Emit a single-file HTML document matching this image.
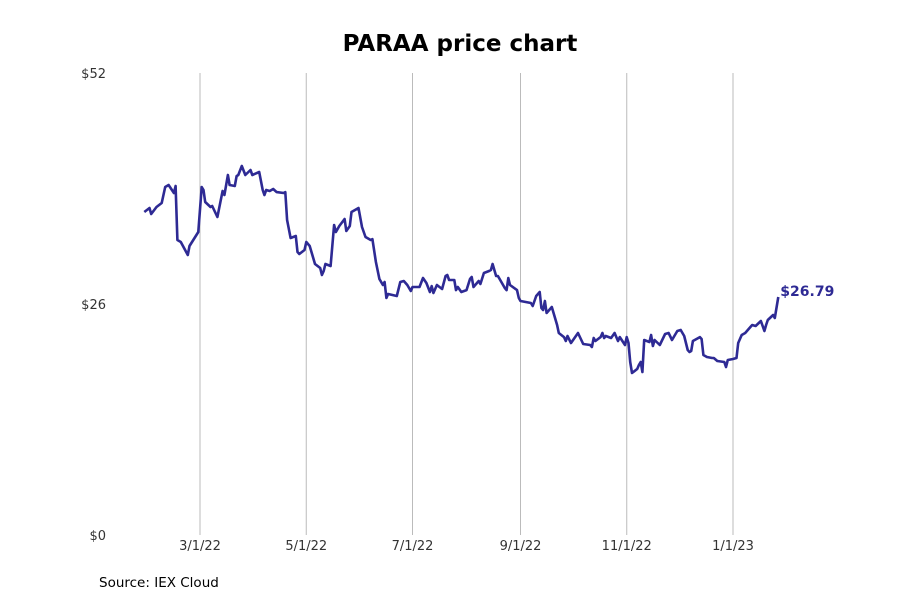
<!DOCTYPE html>
<html><head><meta charset="utf-8"><style>
body{margin:0;background:#fff;font-family:"DejaVu Sans","Liberation Sans",sans-serif}
</style></head><body>
<svg id="chart" width="900" height="600" xmlns="http://www.w3.org/2000/svg">
<text x="460" y="51" text-anchor="middle" font-size="23" font-weight="bold" fill="#000">PARAA price chart</text>
<g id="grid"></g><g id="yaxis"></g><g id="xaxis"></g><g id="series"></g>
<text x="99" y="587" font-size="13.5" fill="#000">Source: IEX Cloud</text>
</svg>
<script>
// days since 2022-03-01
const days=[-32,-29,-28,-25,-22,-20,-18,-15,-14,-13,-11,-7,-6,-1,1,2,3,6,7,10,13,14,16,17,20,21,22,24,26,29,30,34,36,37,38,40,42,44,48,49,50,52,55,56,57,60,61,63,66,69,70,71,72,75,77,78,80,83,84,86,87,91,93,95,98,99,101,103,105,106,107,108,113,115,117,119,121,122,126,128,130,132,133,134,136,139,141,142,143,146,147,148,150,153,155,156,157,160,161,163,166,167,168,170,171,175,176,177,178,182,183,184,190,191,193,195,196,197,198,199,202,205,206,209,210,211,213,217,220,224,225,226,227,230,231,232,233,236,238,240,241,244,245,246,247,248,251,252,253,254,255,258,259,260,261,264,267,269,271,274,276,278,280,281,282,283,287,288,289,291,294,295,297,301,302,303,306,308,309,311,313,316,317,319,322,324,325,326,329,330,332];
const prices=[36.35,36.80,36.13,36.92,37.37,39.17,39.39,38.49,39.28,33.20,32.98,31.51,32.53,34.10,39.17,38.83,37.48,36.92,37.03,35.79,38.72,38.27,40.52,39.39,39.28,40.40,40.52,41.53,40.52,41.08,40.52,40.86,38.83,38.27,38.83,38.72,38.94,38.60,38.49,38.60,35.45,33.43,33.65,31.85,31.63,32.08,32.98,32.53,30.50,30.05,29.26,29.71,30.50,30.28,34.89,34.10,34.78,35.57,34.22,34.78,36.35,36.80,34.67,33.54,33.20,33.31,30.73,28.81,28.14,28.48,26.67,27.12,26.90,28.48,28.59,28.14,27.46,27.91,27.91,28.93,28.36,27.35,28.02,27.24,28.14,27.69,29.15,29.26,28.70,28.70,27.57,27.91,27.35,27.57,28.81,29.04,27.91,28.59,28.25,29.49,29.71,29.83,30.50,29.15,29.15,27.80,27.57,28.93,28.14,27.57,26.67,26.34,26.11,25.77,26.90,27.35,25.55,25.32,26.34,24.99,25.66,23.64,22.74,22.28,21.83,22.40,21.61,22.74,21.50,21.38,21.16,22.17,21.83,22.28,22.74,22.17,22.40,22.17,22.74,21.83,22.28,21.38,22.28,21.61,19.47,18.23,18.68,19.13,19.47,18.35,21.95,21.72,22.51,21.27,21.95,21.38,22.62,22.74,21.95,22.96,23.07,22.40,20.82,20.60,20.71,21.83,22.28,22.06,20.26,20.03,19.92,19.92,19.58,19.47,18.91,19.70,19.81,19.92,21.61,22.51,22.74,23.41,23.64,23.52,24.09,22.96,23.64,24.20,24.76,24.42,26.79];
const tickDays=[0,61,122,184,245,306];
const tickLabels=["3/1/22","5/1/22","7/1/22","9/1/22","11/1/22","1/1/23"];
const yTicks=[0,26,52];
const yLabels=["$0","$26","$52"];
const lastLabel="$26.79";

const NS="http://www.w3.org/2000/svg";
const X=d=>200+d*(533/306);
const Y=p=>535-p*(462/52);
function mk(t,a,parent){const e=document.createElementNS(NS,t);for(const k in a)e.setAttribute(k,a[k]);document.getElementById(parent).appendChild(e);return e;}
tickDays.forEach((d,i)=>{
 const g=mk('line',{x1:X(d),x2:X(d),y1:73,y2:535,stroke:'#bbbbbb','stroke-width':1},'grid');
 
 
 const t=mk('text',{x:X(d),y:550,'text-anchor':'middle','font-size':13,fill:'#333'},'xaxis');
 t.textContent=tickLabels[i];
 
 
});
yTicks.forEach((v,i)=>{
 const t=mk('text',{x:106,y:Y(v)+5,'text-anchor':'end','font-size':13,fill:'#333'},'yaxis');
 t.textContent=yLabels[i];
 
 
});
const pts=days.map((d,i)=>X(d).toFixed(1)+','+Y(prices[i]).toFixed(1)).join(' ');
const pl=mk('polyline',{points:pts,fill:'none',stroke:'#2e2a94','stroke-width':2.6,'stroke-linejoin':'round'},'series');


const n=days.length-1;
const lb=mk('text',{x:X(days[n])+2,y:Y(prices[n])-1,'font-size':14,'font-weight':'bold',fill:'#2e2a94'},'series');
lb.textContent=lastLabel;


</script>
</body></html>
